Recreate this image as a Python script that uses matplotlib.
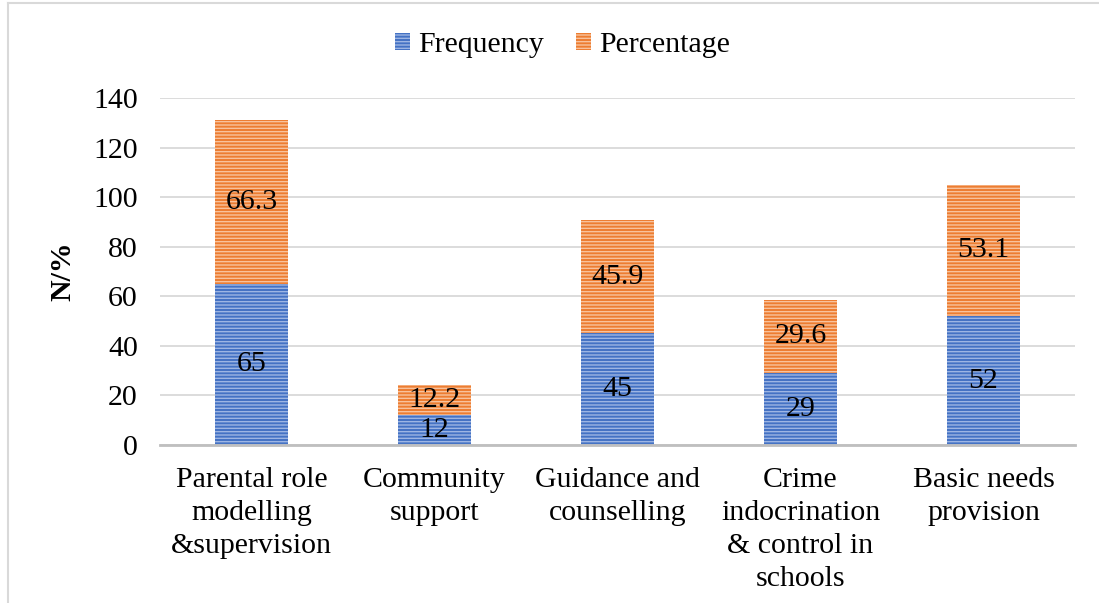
import numpy as np
import matplotlib
matplotlib.use("Agg")
import matplotlib.pyplot as plt
from matplotlib.lines import Line2D

# データ
categories = ["Parental role\nmodelling\n&supervision", "Community\nsupport",
              "Guidance and\ncounselling", "Crime\nindocrination\n& control in\nschools",
              "Basic needs\nprovision"]
frequency = [65, 12, 45, 29, 52]
percentage = [66.3, 12.2, 45.9, 29.6, 53.1]

plt.rcParams["font.family"] = ["Liberation Serif", "DejaVu Serif"]
plt.rcParams["hatch.linewidth"] = 1.0
fs = 21.5

fig = plt.figure(figsize=(10.99, 6.03), dpi=100)
ax = fig.add_axes([160 / 1099, 1 - 445 / 603, (1075 - 160) / 1099, (445 - 98) / 603])

x = np.arange(len(categories))
w = 0.4

# 横縞模様の積み上げ棒
b1 = ax.bar(x, frequency, w, color="#4472C4", edgecolor="#9db5e3", hatch="-----",
            linewidth=0, label="Frequency", zorder=3)
b2 = ax.bar(x, percentage, w, bottom=frequency, color="#ED7D31", edgecolor="#f8c29c",
            hatch="-----", linewidth=0, label="Percentage", zorder=3)

ax.bar_label(b1, labels=[str(v) for v in frequency], label_type="center", fontsize=fs)
ax.bar_label(b2, labels=[str(v) for v in percentage], label_type="center", fontsize=fs)

ax.set_xlim(-0.5, len(categories) - 0.5)
ax.set_ylim(0, 140)
ax.set_yticks(np.arange(0, 141, 20))
ax.set_xticks(x)
ax.set_xticklabels(categories, fontsize=fs, linespacing=1.34)
ax.tick_params(axis="y", length=0, pad=16, labelsize=fs)
ax.tick_params(axis="x", length=0, pad=16)

ax.grid(axis="y", color="#d9d9d9", linewidth=1.3, zorder=0)
ax.set_axisbelow(True)
for s in ["top", "right", "left"]:
    ax.spines[s].set_visible(False)
ax.spines["bottom"].set_color("#bfbfbf")
ax.spines["bottom"].set_linewidth(2.0)
ax.spines["bottom"].set_zorder(4)

ax.set_ylabel("N/%", fontsize=fs, fontweight="bold", labelpad=12)

fig.legend(handles=[b1, b2], loc="center", bbox_to_anchor=(0.5 + 13 / 1099, 1 - 45 / 603), ncol=2,
           frameon=False, fontsize=fs, handlelength=0.5, handleheight=0.5,
           handletextpad=0.25, columnspacing=1.1)

# 外枠（上・左）
fig.add_artist(Line2D([8 / 1099, 8 / 1099], [0, 1 - 3 / 603], color="#d9d9d9", linewidth=1.5,
                      transform=fig.transFigure))
fig.add_artist(Line2D([8 / 1099, 1], [1 - 3 / 603, 1 - 3 / 603], color="#d9d9d9", linewidth=1.5,
                      transform=fig.transFigure))

plt.savefig("out.png", dpi=100)
